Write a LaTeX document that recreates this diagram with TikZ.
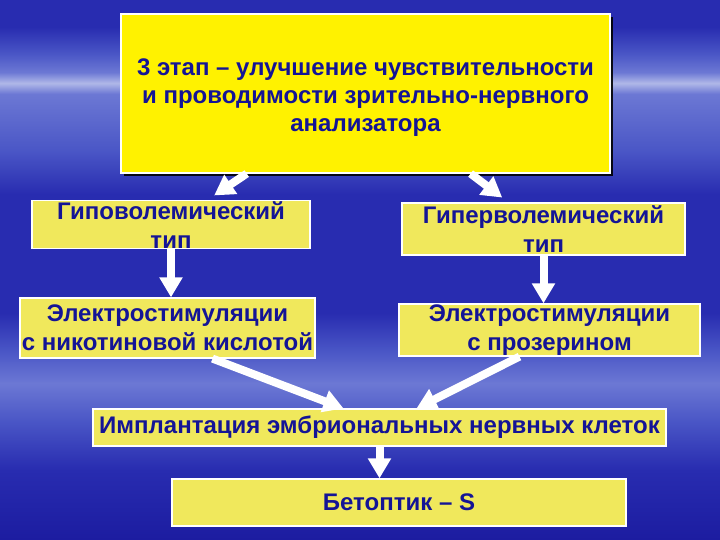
\documentclass[tikz,border=0pt]{standalone}
\usepackage{fontspec}
\setmainfont{Liberation Sans}
\usetikzlibrary{positioning, arrows.meta, shadows}
\definecolor{skyA}{RGB}{28,28,160}
\definecolor{skyB}{RGB}{40,44,176}
\definecolor{skyC}{RGB}{74,86,198}
\definecolor{skyD}{RGB}{108,120,212}
\definecolor{skyE}{RGB}{176,184,232}
\definecolor{paleyellow}{RGB}{240,232,92}
\definecolor{inkblue}{RGB}{20,20,150}
\pgfdeclareverticalshading{skyband}{100bp}{color(0bp)=(skyA); color(25bp)=(skyA);
  color(31.5bp)=(skyB); color(36bp)=(skyC); color(39.5bp)=(skyD); color(42.5bp)=(skyC);
  color(46bp)=(skyB); color(57bp)=(skyB); color(61bp)=(skyC); color(66.3bp)=(skyD);
  color(67.3bp)=(skyE); color(68.3bp)=(skyD); color(70bp)=(skyC); color(72.5bp)=(skyB);
  color(75bp)=(skyB); color(100bp)=(skyB)}

\begin{document}
\begin{tikzpicture}[x=1pt, y=-1pt,
    box/.style={rectangle, fill=paleyellow, draw=white, line width=1.2pt, inner sep=0pt,
        text centered, align=center, text=inkblue, font={\fontsize{24}{29}\selectfont\bfseries}},
    arrow/.style={-{Triangle[width=22pt, length=20pt]}, line width=8pt, white}
]
    \useasboundingbox (0,0) rectangle (720,540);
    % Background
    \shade[shading=skyband] (0,0) rectangle (720,540);

    % Stage box
    \node[box, fill=yellow, minimum width=489pt, text height=118pt, text depth=41pt,
        font={\fontsize{24}{28}\selectfont\bfseries},
        drop shadow={shadow xshift=3pt, shadow yshift=-3pt, fill=black, opacity=0.9}] (stage) at (365.5,93.5)
        {3 этап – улучшение чувствительности\\и проводимости зрительно-нервного\\анализатора};

    % Types
    \node[box, minimum width=278pt, text height=48pt, text depth=-3pt] (hypo) at (171,224.5)
        {Гиповолемический\\тип};
    \node[box, minimum width=283pt, minimum height=52pt] (hyper) at (543.5,229)
        {Гиперволемический\\тип};

    % Stimulation
    \node[box, minimum width=295pt, minimum height=60pt] (stimL) at (167.5,328)
        {Электростимуляции\\с никотиновой кислотой};
    \node[box, minimum width=301pt, minimum height=52pt] (stimR) at (549.5,330)
        {Электростимуляции\\с прозерином};

    % Implantation and drug
    \node[box, minimum width=573pt, minimum height=37pt] (implant) at (379.5,427.5)
        {Имплантация эмбриональных нервных клеток};
    \node[box, minimum width=454pt, minimum height=47pt] (beto) at (399,502.5)
        {Бетоптик – S};

    % Arrows
    \draw[arrow, shorten >=8pt] (stage) -- (hypo);
    \draw[arrow, shorten >=8pt] (stage) -- (hyper);
    \draw[arrow] (hypo.south) -- (hypo.south |- stimL.north);
    \draw[arrow] (hyper.south) -- (hyper.south |- stimR.north);
    \draw[arrow] ([xshift=45pt]stimL.south) -- ([xshift=-36pt]implant.north);
    \draw[arrow] ([xshift=-30pt]stimR.south) -- ([xshift=37pt]implant.north);
    \draw[arrow] (implant.south) -- (implant.south |- beto.north);
\end{tikzpicture}
\end{document}
